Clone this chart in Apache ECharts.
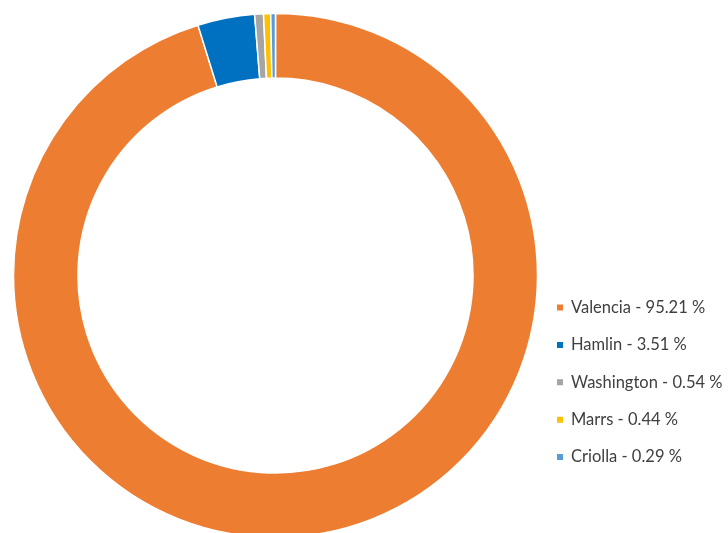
<!DOCTYPE html>
<html><head><meta charset="utf-8">
<script src="https://cdn.jsdelivr.net/npm/echarts@6/dist/echarts.min.js"></script>
<style>html,body{margin:0;padding:0;background:#fff}#c{width:728px;height:533px}</style>
</head><body><div id="c"></div>
<script>
const categories = ['Valencia', 'Hamlin', 'Washington', 'Marrs', 'Criolla'];
const values = [95.21, 3.51, 0.54, 0.44, 0.29];
const colors = ['#ED7D31', '#0070C0', '#A5A5A5', '#FFC000', '#5B9BD5'];

const chart = echarts.init(document.getElementById('c'), null, {renderer: 'canvas'});
const data = categories.map((n, i) => ({name: n, value: values[i], itemStyle: {color: colors[i]}}));
chart.setOption({
  animation: false,
  legend: {
    orient: 'vertical',
    left: 555,
    top: 299,
    padding: 0,
    itemWidth: 8,
    itemHeight: 8,
    itemGap: 20.4,
    icon: 'rect',
    textStyle: {fontFamily: 'Lato', fontSize: 16.5, color: '#404040', padding: [0, 0, 0, 2]},
    formatter: function (name) {
      const i = categories.indexOf(name);
      return name + ' - ' + values[i].toFixed(2) + ' %';
    },
    data: categories
  },
  series: [{
    type: 'pie',
    center: [275.5, 275.5],
    radius: [197.5, 262],
    startAngle: 90,
    clockwise: true,
    label: {show: false},
    labelLine: {show: false},
    emphasis: {disabled: true},
    itemStyle: {borderColor: '#fff', borderWidth: 1.5},
    data: data
  }]
});
</script></body></html>
